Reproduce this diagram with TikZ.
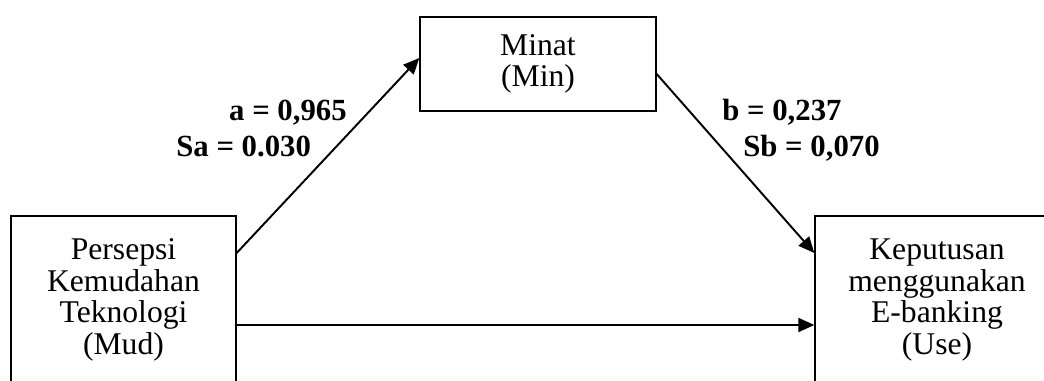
\documentclass[tikz,border=0pt]{standalone}
\usepackage{fontspec}
\setmainfont{Liberation Serif}
\usetikzlibrary{arrows.meta,positioning}

\begin{document}
\begin{tikzpicture}[
x=0.02cm,
y=-0.02cm,
every node/.style={font=\fontsize{18}{18}\selectfont},
var/.style={rectangle,draw,line width=0.8pt,align=center,inner sep=0pt,text width=4.3cm,minimum width=4.5cm,minimum height=3.36cm},
med/.style={rectangle,draw,line width=0.8pt,align=center,inner sep=0pt,text width=4.5cm,minimum width=4.72cm,minimum height=1.88cm},
arr/.style={-{Triangle[length=0.32cm,width=0.28cm]},line width=1.1pt},
coef/.style={font=\fontsize{17.5}{18}\selectfont\bfseries,inner sep=0pt}
]
\useasboundingbox (0,0) rectangle (1044,381);
\clip (0,0) rectangle (1044,381);
\node[med] (min) at (538,64) {Minat\\(Min)};
\node[var] (mud) at (123.5,300) {Persepsi\\Kemudahan\\Teknologi\\(Mud)};
\node[var,minimum width=4.88cm] (use) at (937,300) {Keputusan\\menggunakan\\E-banking\\(Use)};

\node[coef,anchor=base east] (acoef) at (347,121) {a = 0,965};
\node[coef,anchor=base west] (asd) at (176,157) {Sa = 0.030};
\node[coef,anchor=base west] (bcoef) at (722,121) {b = 0,237};
\node[coef,anchor=base west] (bsd) at (743,157) {Sb = 0,070};

\draw[arr] ([yshift=0.94cm]mud.east) -- ([yshift=0.12cm]min.west);
\draw[arr] ([yshift=-0.2cm]min.east) -- ([yshift=0.94cm]use.west);
\draw[arr] ([yshift=-0.5cm]mud.east) -- ([yshift=-0.5cm]use.west);
\end{tikzpicture}
\end{document}
